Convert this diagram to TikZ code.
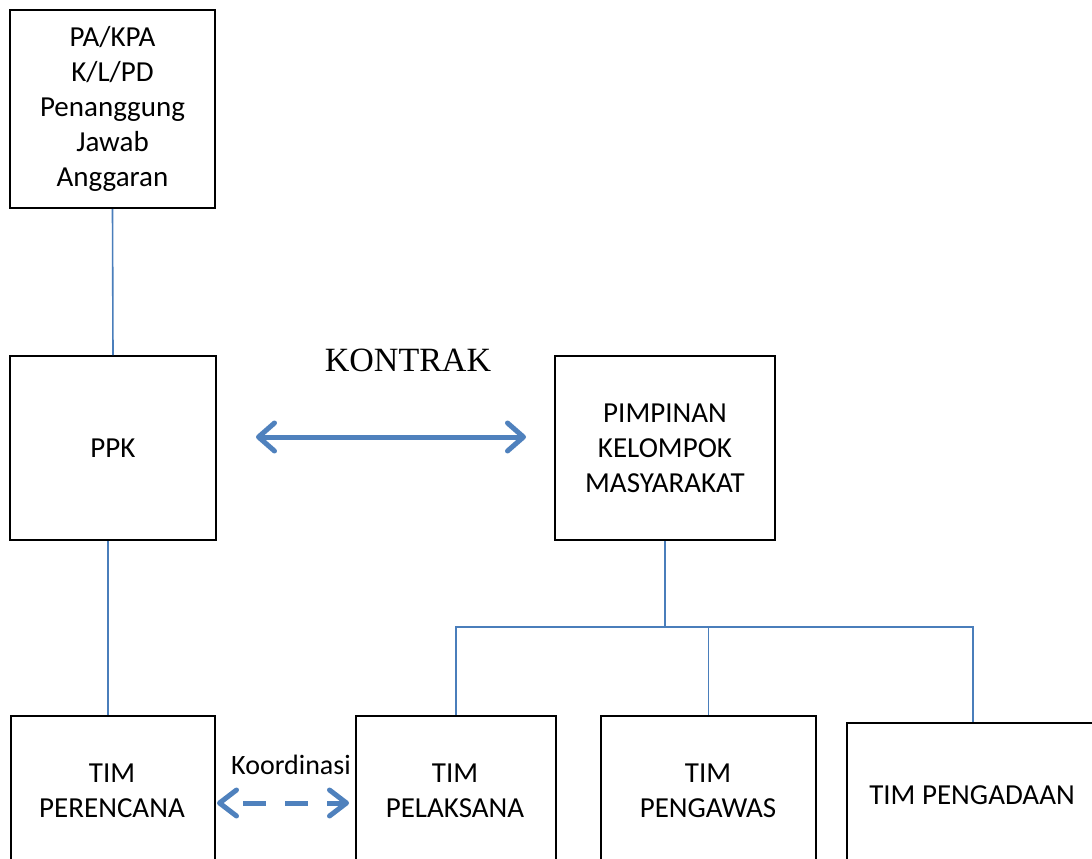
\documentclass[tikz,border=0pt]{standalone}
\usepackage{fontspec}
\setmainfont{Carlito}
\newfontfamily\titlefont{Liberation Serif}
\usetikzlibrary{arrows.meta}
\definecolor{linkblue}{HTML}{4A7EBB}
\definecolor{arrowblue}{HTML}{4F81BD}
\begin{document}
\begin{tikzpicture}[x=1pt,y=-1pt,
  box/.style={draw=black, line width=2pt, inner sep=0pt, align=center,
    font=\fontsize{29}{35}\selectfont},
  boxtext/.style={inner sep=0pt, align=center, font=\fontsize{29}{35}\selectfont},
  link/.style={draw=linkblue, line width=1.6pt},
  bigarrow/.style={draw=arrowblue, line width=5pt, line cap=round,
    {Straight Barb[length=16pt,width=28pt,round]}-{Straight Barb[length=16pt,width=28pt,round]}},
  dasharrow/.style={draw=arrowblue, line width=5pt,
    dash pattern=on 23pt off 19pt, dash phase=21pt,
    {Straight Barb[length=17pt,width=26pt,round]}-{Straight Barb[length=17pt,width=26pt,round]}}
]
\clip (0,0) rectangle (1092,859);
\fill[white] (0,0) rectangle (1092,859);

% upper boxes
\node[box, minimum width=205pt, minimum height=198pt] (pa) at (112.5,109)
  {PA/KPA\\K/L/PD\\Penanggung\\Jawab\\Anggaran};
\node[box, minimum width=206pt, minimum height=184pt] (ppk) at (113,448) {PPK};
\node[box, minimum width=220pt, minimum height=184pt] (pkm) at (665,448)
  {PIMPINAN\\KELOMPOK\\MASYARAKAT};

% bottom row, running past the lower edge
\node[box, minimum width=204pt, minimum height=200pt, anchor=north west] (per) at (10,715) {};
\node[box, minimum width=200pt, minimum height=200pt, anchor=north west] (pel) at (355,715) {};
\node[box, minimum width=215pt, minimum height=200pt, anchor=north west] (pgw) at (600,715) {};
\node[box, minimum width=300pt, minimum height=200pt, anchor=north west] (pgd) at (846,722) {};

\node[boxtext] (perT) at (112,791) {TIM\\PERENCANA};
\node[boxtext] (pelT) at (455,791) {TIM\\PELAKSANA};
\node[boxtext] (pgwT) at (708,791) {TIM\\PENGAWAS};
\node[boxtext] (pgdT) at (972,795) {TIM PENGADAAN};

% hierarchy lines
\draw[link] (pa.south) -- (ppk.north);
\draw[link] ([xshift=-5pt]ppk.south) -- ([xshift=-5pt]ppk.south |- per.north);
\coordinate (fork) at (665,627);
\coordinate (pgdTop) at ([xshift=127pt]pgd.north west);
\draw[link] (pkm.south) -- (fork);
\draw[link] (pel.north) |- (fork) -| (pgdTop);
\draw[link] (pgw.north) -- (pgw.north |- fork);

% contract arrow
\node[font=\titlefont\fontsize{34}{40}\selectfont, inner sep=0pt] (kontrak) at (408,360) {KONTRAK};
\draw[bigarrow] ([shift={(39,-11)}]ppk.east) -- ([shift={(-28,-11)}]pkm.west);

% coordination arrow
\node[boxtext, font=\fontsize{28}{34}\selectfont] (koord) at (291,765) {Koordinasi};
\draw[dasharrow] ([shift={(1,-13)}]per.east) -- ([shift={(-6,-13)}]pel.west);
\end{tikzpicture}
\end{document}
